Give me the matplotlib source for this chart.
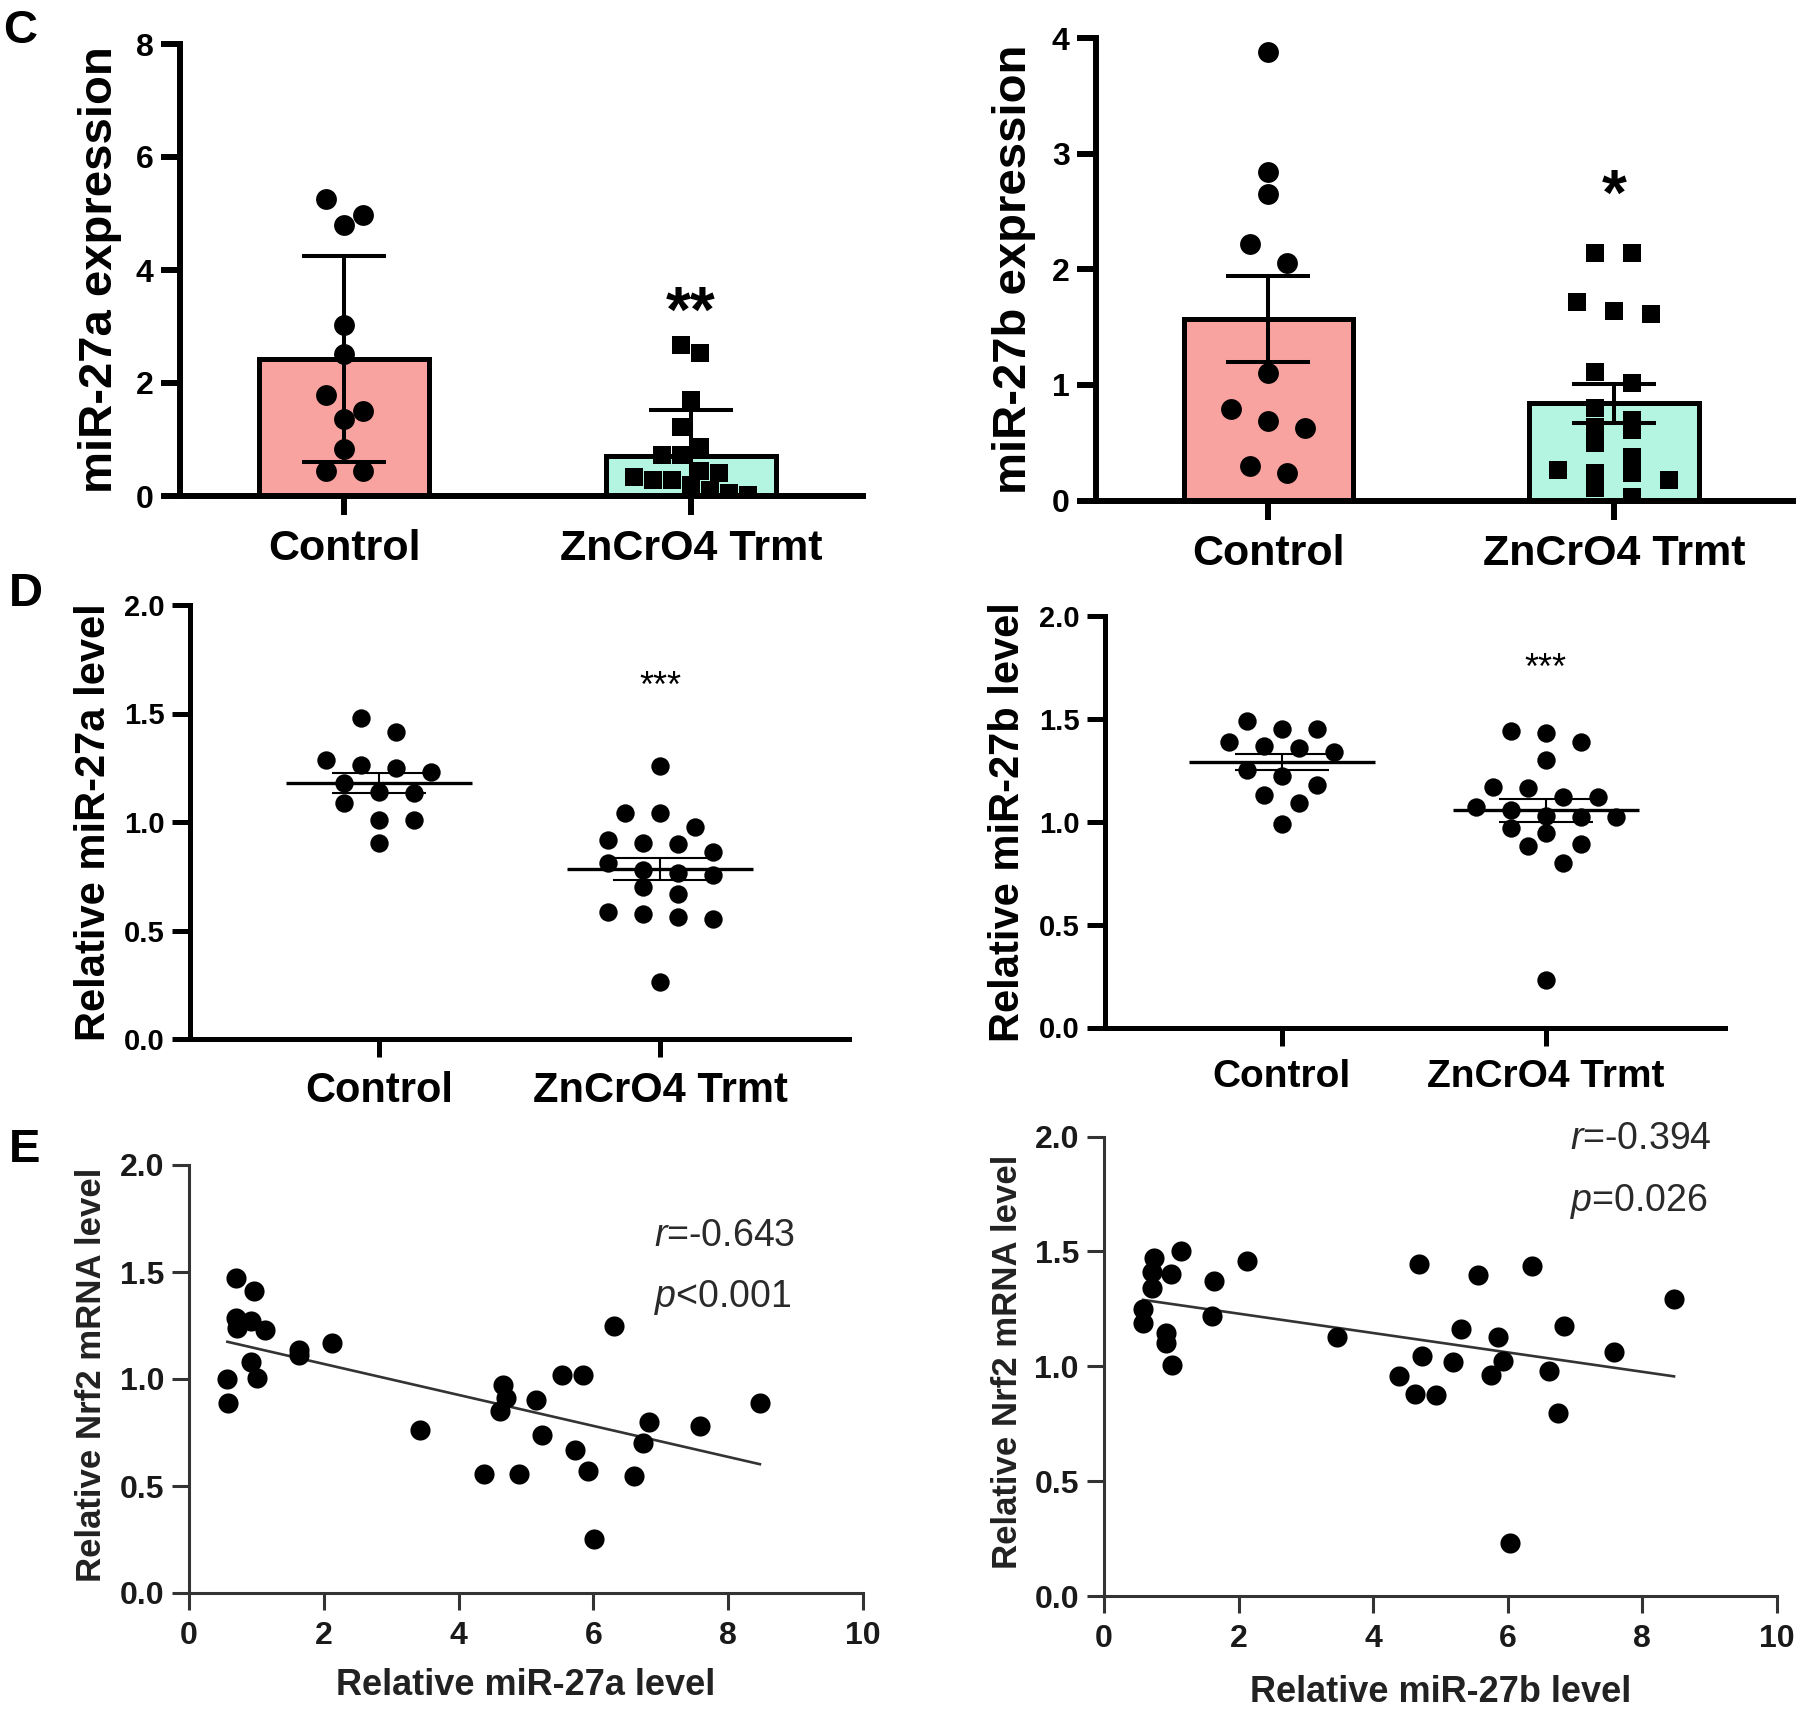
import numpy as np
import matplotlib.pyplot as plt

plt.rcParams['font.family'] = ['Liberation Sans', 'DejaVu Sans']
plt.rcParams['mathtext.fontset'] = 'custom'
plt.rcParams['mathtext.it'] = 'Liberation Sans:italic'
plt.rcParams['mathtext.rm'] = 'Liberation Sans'

groups = ['Control', 'ZnCrO4 Trmt']

# panel C, left: miR-27a expression (mean +/- SD)
c27a_ctrl = [5.25, 4.97, 4.79, 3.03, 2.51, 1.78, 1.51, 1.36, 0.84, 0.45, 0.45]
c27a_zn = [2.67, 2.53, 1.70, 1.22, 0.87, 0.73, 0.73, 0.45, 0.41, 0.34,
           0.28, 0.28, 0.20, 0.11, 0.05, 0.02]
c27a_mean = [2.43, 0.70]
c27a_err = [1.82, 0.82]

# panel C, right: miR-27b expression (mean +/- SEM)
c27b_ctrl = [3.88, 2.84, 2.65, 2.22, 2.05, 1.10, 0.79, 0.69, 0.63, 0.30, 0.24]
c27b_zn = [2.14, 2.14, 1.72, 1.64, 1.61, 1.11, 1.02, 0.80, 0.70, 0.64, 0.61,
           0.50, 0.38, 0.26, 0.24, 0.24, 0.18, 0.11, 0.03]
c27b_mean = [1.57, 0.84]
c27b_err = [0.37, 0.17]

# panel D: relative miR-27a / miR-27b level
d27a_ctrl = [1.478, 1.416, 1.286, 1.263, 1.247, 1.232, 1.178, 1.14, 1.132,
             1.086, 1.009, 1.009, 0.902]
d27a_zn = [1.258, 1.04, 1.04, 0.978, 0.917, 0.905, 0.899, 0.863, 0.81, 0.779,
           0.764, 0.756, 0.702, 0.668, 0.587, 0.576, 0.564, 0.552, 0.264]
d27a_mean = [1.18, 0.785]
d27a_sem = [0.045, 0.05]

d27b_ctrl = [1.49, 1.45, 1.45, 1.39, 1.37, 1.36, 1.34, 1.25, 1.22, 1.18,
             1.13, 1.09, 0.99]
d27b_zn = [1.44, 1.43, 1.39, 1.30, 1.17, 1.165, 1.12, 1.12, 1.07, 1.056,
           1.03, 1.025, 1.025, 0.97, 0.947, 0.89, 0.88, 0.80, 0.23]
d27b_mean = [1.29, 1.055]
d27b_sem = [0.04, 0.055]

# panel E: Nrf2 mRNA vs miR level
e27a_x = [0.69, 0.96, 0.69, 0.92, 0.71, 1.13, 1.63, 1.63, 2.12, 0.92, 1.01,
          0.57, 0.58, 3.43, 4.38, 4.90, 4.66, 4.70, 4.62, 5.15, 5.24, 5.53,
          5.84, 5.72, 5.92, 6.01, 6.31, 6.60, 6.73, 6.83, 7.58, 8.47]
e27a_y = [1.47, 1.41, 1.285, 1.27, 1.24, 1.23, 1.135, 1.11, 1.17, 1.08, 1.005,
          1.0, 0.89, 0.76, 0.556, 0.556, 0.97, 0.91, 0.85, 0.90, 0.74, 1.02,
          1.02, 0.67, 0.57, 0.254, 1.25, 0.548, 0.70, 0.80, 0.78, 0.89]
e27b_x = [0.74, 1.14, 0.72, 0.99, 0.72, 0.58, 0.58, 0.92, 0.92, 1.01, 1.63,
          1.61, 2.12, 3.46, 4.39, 4.68, 4.73, 4.62, 4.93, 5.19, 5.30, 5.55,
          5.75, 5.85, 5.93, 6.03, 6.36, 6.61, 6.74, 6.84, 7.58, 8.47]
e27b_y = [1.47, 1.50, 1.41, 1.40, 1.34, 1.25, 1.19, 1.145, 1.10, 1.005, 1.37,
          1.22, 1.46, 1.126, 0.957, 1.444, 1.046, 0.879, 0.874, 1.02, 1.163,
          1.397, 0.962, 1.126, 1.025, 0.23, 1.436, 0.979, 0.795, 1.175, 1.063,
          1.294]

pink = '#F9A3A1'
teal = '#B3F5E0'

W, H = 1800, 1713
fig = plt.figure(figsize=(W / 100, H / 100), dpi=100)


def panel(l, t, r, b):
    return fig.add_axes([l / W, 1 - b / H, (r - l) / W, (b - t) / H])


def px_per_unit(ax):
    bb = ax.get_position()
    x0, x1 = ax.get_xlim()
    y0, y1 = ax.get_ylim()
    return bb.width * W / (x1 - x0), bb.height * H / (y1 - y0)


def swarm(ax, x0, vals, spacing_px, row_px):
    # spread points of similar value sideways, rows centred on x0
    sx, sy = px_per_unit(ax)
    vals = np.asarray(vals, float)
    order = np.argsort(-vals, kind='stable')
    rows = []
    for i in order:
        if rows and vals[rows[-1][0]] - vals[i] <= row_px / sy:
            rows[-1].append(i)
        else:
            rows.append([i])
    xs = np.full(len(vals), float(x0))
    for row in rows:
        n = len(row)
        for k, i in enumerate(row):
            xs[i] += (k - (n - 1) / 2) * spacing_px / sx
    return xs


def style(ax, lw, ticklen, color='black'):
    for s in ['top', 'right']:
        ax.spines[s].set_visible(False)
    for s in ['left', 'bottom']:
        ax.spines[s].set_linewidth(lw)
        ax.spines[s].set_color(color)
    ax.tick_params(width=lw, length=ticklen, color=color, direction='out')


def bar_panel(ax, xl, ctrl, zn, mean, err, ylim, yticks, ylabel, star,
              star_y, zn_spacing, zn_row):
    ax.set_xlim(xl)
    ax.set_ylim(ylim)
    ax.bar([0, 1], mean, width=0.49, color=[pink, teal], edgecolor='black',
           linewidth=3.6, zorder=1)
    ax.errorbar([0, 1], mean, yerr=err, fmt='none', ecolor='black',
                elinewidth=2.9, capsize=30, capthick=2.9, zorder=2)
    ax.scatter(swarm(ax, 0, ctrl, 37, 20), ctrl, s=225, marker='o',
               color='black', linewidths=0, zorder=3)
    ax.scatter(swarm(ax, 1, zn, zn_spacing, zn_row), zn, s=165, marker='s',
               color='black', linewidths=0, zorder=3)
    style(ax, 4.3, 14)
    ax.set_xticks([0, 1])
    ax.set_xticklabels(groups, fontsize=31, fontweight='bold')
    ax.set_yticks(yticks)
    ax.set_yticklabels([str(t) for t in yticks], fontsize=23, fontweight='bold')
    ax.tick_params(axis='y', pad=5)
    ax.tick_params(axis='x', pad=10)
    ax.set_ylabel(ylabel, fontsize=34, fontweight='bold')
    ax.yaxis.label.set_va('center')
    ax.yaxis.set_label_coords(-0.117, 0.5)
    ax.text(1, star_y, star, ha='center', va='center', fontsize=46,
            fontweight='bold')


def dot_panel(ax, ctrl, zn, mean, sem, ylabel, star_y, lab_x, cat_fs):
    ax.set_ylim(0, 2)
    sx, sy = px_per_unit(ax)
    for x0, vals in zip([0, 1], [ctrl, zn]):
        ax.scatter(swarm(ax, x0, vals, 35, 18), vals, s=175, marker='o',
                   color='black', linewidths=0, zorder=2)
    ax.hlines(mean, np.array([0, 1]) - 93 / sx, np.array([0, 1]) + 93 / sx,
              color='black', lw=2.4, zorder=3)
    ax.errorbar([0, 1], mean, yerr=sem, fmt='none', ecolor='black',
                elinewidth=1.5, capsize=34, capthick=1.5, zorder=3)
    style(ax, 3.6, 13)
    ax.set_xticks([0, 1])
    ax.set_xticklabels(groups, fontsize=cat_fs, fontweight='bold')
    yt = [0, 0.5, 1.0, 1.5, 2.0]
    ax.set_yticks(yt)
    ax.set_yticklabels(['%.1f' % t for t in yt], fontsize=21, fontweight='bold')
    ax.tick_params(axis='y', pad=5)
    ax.tick_params(axis='x', pad=10)
    ax.set_ylabel(ylabel, fontsize=30, fontweight='bold')
    ax.yaxis.label.set_va('center')
    ax.yaxis.set_label_coords(lab_x, 0.5)
    ax.text(1, star_y, '***', ha='center', va='center', fontsize=26)


def corr_panel(ax, x, y, xlabel, rtxt, ptxt, txt_x, r_y, p_y, lab_x, lab_y):
    ax.set_xlim(0, 10)
    ax.set_ylim(0, 2)
    ax.scatter(x, y, s=210, marker='o', color='black', linewidths=0, zorder=3)
    coef = np.polyfit(x, y, 1)
    xx = np.array([min(x), max(x)])
    ax.plot(xx, np.polyval(coef, xx), color='#333333', lw=1.9, zorder=2)
    style(ax, 2.2, 12, color='#333333')
    ax.set_xticks(range(0, 11, 2))
    ax.set_xticklabels([str(t) for t in range(0, 11, 2)], fontsize=23,
                       fontweight='bold', color='#1a1a1a')
    yt = [0, 0.5, 1.0, 1.5, 2.0]
    ax.set_yticks(yt)
    ax.set_yticklabels(['%.1f' % t for t in yt], fontsize=23,
                       fontweight='bold', color='#1a1a1a')
    ax.tick_params(axis='y', pad=6)
    ax.tick_params(axis='x', pad=8)
    ax.set_xlabel(xlabel, fontsize=26, fontweight='bold', color='#222222')
    ax.xaxis.label.set_va('center')
    ax.xaxis.set_label_coords(0.5, lab_y)
    ax.set_ylabel('Relative Nrf2 mRNA level', fontsize=25, fontweight='bold',
                  color='#222222')
    ax.yaxis.label.set_va('center')
    ax.yaxis.set_label_coords(lab_x, 0.51)
    ax.text(txt_x, r_y, rtxt, ha='left', va='center', fontsize=27,
            color='#2a2a2a')
    ax.text(txt_x, p_y, ptxt, ha='left', va='center', fontsize=27,
            color='#2a2a2a')


# C
ax = panel(180, 44, 863, 496)
bar_panel(ax, (-0.473, 1.496), c27a_ctrl, c27a_zn, c27a_mean, c27a_err,
          (0, 8), [0, 2, 4, 6, 8], 'miR-27a expression', '**', 3.2, 19, 20)

ax = panel(1096, 38, 1793, 500.5)
bar_panel(ax, (-0.499, 1.518), c27b_ctrl, c27b_zn, c27b_mean, c27b_err,
          (0, 4), [0, 1, 2, 3, 4], 'miR-27b expression', '*', 2.62, 37, 14)

# D
ax = panel(189.5, 605, 849.5, 1039)
ax.set_xlim(-0.674, 1.674)
dot_panel(ax, d27a_ctrl, d27a_zn, d27a_mean, d27a_sem,
          'Relative miR-27a level', 1.62, -0.145, 30)

ax = panel(1105, 616, 1725, 1027.5)
ax.set_xlim(-0.67, 1.68)
dot_panel(ax, d27b_ctrl, d27b_zn, d27b_mean, d27b_sem,
          'Relative miR-27b level', 1.74, -0.157, 28)

# E
ax = panel(189, 1165, 863, 1593)
corr_panel(ax, e27a_x, e27a_y, 'Relative miR-27a level',
           '$r$=-0.643', '$p$<0.001', 6.9, 1.666, 1.383, -0.145, -0.215)

ax = panel(1104, 1136.5, 1777, 1596)
corr_panel(ax, e27b_x, e27b_y, 'Relative miR-27b level',
           '$r$=-0.394', '$p$=0.026', 6.92, 1.99, 1.715, -0.144, -0.211)

for letter, x, y in [('C', 3, 43), ('D', 9, 606), ('E', 9, 1162)]:
    fig.text(x / W, 1 - y / H, letter, fontsize=34, fontweight='bold',
             va='baseline', ha='left')

fig.savefig('out.png', dpi=100)
